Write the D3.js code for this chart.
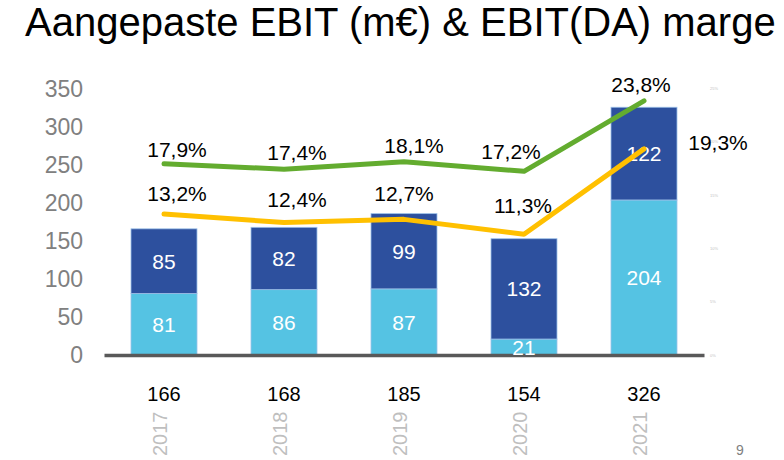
<!DOCTYPE html>
<html>
<head>
<meta charset="utf-8">
<script src="https://cdn.jsdelivr.net/npm/d3@7"></script>
<style>
  body { margin: 0; background: #fff; }
  svg text { font-family: "Liberation Sans", Arial, sans-serif; }
</style>
</head>
<body>
<div id="chart"></div>
<script>
// Data
const years = ["2017", "2018", "2019", "2020", "2021"];
const ebitLow = [81, 86, 87, 21, 204];      // light blue part
const ebitHigh = [85, 82, 99, 132, 122];    // dark blue part
const totals = [166, 168, 185, 154, 326];
const ebitdaMargin = [17.9, 17.4, 18.1, 17.2, 23.8];  // green line
const ebitMargin = [13.2, 12.4, 12.7, 11.3, 19.3];    // yellow line
const leftTicks = [0, 50, 100, 150, 200, 250, 300, 350];
const rightTicks = [0, 5, 10, 15, 20, 25];

// label nudges (layout only), relative to the line point
const greenNudge = [[13, -14], [13, -17], [10, -16], [-13, -20], [-3, -16]];
const yellowNudge = [[13, -21], [13, -23], [0, -26], [-1, -29], [74, -6]];

const W = 784, H = 460;

const svg = d3.select("#chart")
    .append("svg")
    .attr("width", W)
    .attr("height", H);

// Title
svg.append("text")
    .attr("x", 25)
    .attr("y", 36)
    .attr("font-size", 40)
    .attr("fill", "#000")
    .text("Aangepaste EBIT (m€) & EBIT(DA) marge");

// Scales
const x = d3.scaleBand()
    .domain(years)
    .range([104, 704])
    .paddingInner(0.45)
    .paddingOuter(0.225);

const y = d3.scaleLinear()
    .domain([0, 350])
    .range([355, 89]);

const yPct = d3.scaleLinear()
    .domain([0, 25])
    .range([355, 88]);

const cx = d => x(d) + x.bandwidth() / 2;

// Left axis labels
const leftAxis = svg.append("g")
    .attr("transform", "translate(89,0)")
    .call(d3.axisLeft(y).tickValues(leftTicks).tickSize(0).tickPadding(6));
leftAxis.select(".domain").remove();
leftAxis.selectAll("text")
    .attr("font-size", 23)
    .attr("fill", "#808080")
    .style("font-family", "'Liberation Sans', Arial, sans-serif");

// Right axis (tiny, nearly invisible labels)
const rightAxis = svg.append("g")
    .attr("transform", "translate(708,0)")
    .call(d3.axisRight(yPct).tickValues(rightTicks).tickSize(0).tickPadding(2)
        .tickFormat(d => d + "%"));
rightAxis.select(".domain").remove();
rightAxis.selectAll("text")
    .attr("font-size", 4)
    .attr("fill", "#bfbfbf");

// Stacked bars
const stackData = years.map((yr, i) => ({ year: yr, low: ebitLow[i], high: ebitHigh[i] }));
const series = d3.stack().keys(["low", "high"])(stackData);
const colors = { low: "#55c3e3", high: "#2d509e" };

svg.append("g")
    .selectAll("g")
    .data(series)
    .join("g")
    .attr("fill", s => colors[s.key])
    .selectAll("rect")
    .data(s => s)
    .join("rect")
    .attr("x", d => x(d.data.year))
    .attr("y", d => y(d[1]))
    .attr("width", x.bandwidth())
    .attr("height", d => y(d[0]) - y(d[1]))
    .attr("stroke", "#9cc0e8")
    .attr("stroke-width", 0.8);

// Baseline
const base = svg.append("g")
    .attr("transform", `translate(0,${y(0)})`)
    .call(d3.axisBottom(x).tickSize(0).tickFormat(""));
base.select(".domain")
    .attr("stroke", "#595959")
    .attr("stroke-width", 3.5);

// Bar segment labels
series.forEach(s => {
    svg.append("g")
        .selectAll("text")
        .data(s)
        .join("text")
        .attr("x", d => cx(d.data.year))
        .attr("y", d => (y(d[0]) + y(d[1])) / 2)
        .attr("dy", "0.36em")
        .attr("text-anchor", "middle")
        .attr("font-size", 21)
        .attr("fill", "#fff")
        .text(d => d[1] - d[0]);
});

// Lines
const line = d3.line()
    .x((d, i) => cx(years[i]))
    .y(d => yPct(d));

svg.append("path")
    .datum(ebitdaMargin)
    .attr("d", line)
    .attr("fill", "none")
    .attr("stroke", "#63ac2f")
    .attr("stroke-width", 5)
    .attr("stroke-linecap", "round")
    .attr("stroke-linejoin", "round");

svg.append("path")
    .datum(ebitMargin)
    .attr("d", line)
    .attr("fill", "none")
    .attr("stroke", "#ffc000")
    .attr("stroke-width", 5)
    .attr("stroke-linecap", "round")
    .attr("stroke-linejoin", "round");

const fmtPct = v => v.toFixed(1).replace(".", ",") + "%";

function marginLabels(values, nudge) {
    svg.append("g")
        .selectAll("text")
        .data(values)
        .join("text")
        .attr("x", (d, i) => cx(years[i]) + nudge[i][0])
        .attr("y", (d, i) => yPct(d) + nudge[i][1])
        .attr("dy", "0.36em")
        .attr("text-anchor", "middle")
        .attr("font-size", 21)
        .attr("fill", "#000")
        .text(fmtPct);
}
marginLabels(ebitdaMargin, greenNudge);
marginLabels(ebitMargin, yellowNudge);

// Totals under the bars
svg.append("g")
    .selectAll("text")
    .data(totals)
    .join("text")
    .attr("x", (d, i) => cx(years[i]))
    .attr("y", 394)
    .attr("dy", "0.36em")
    .attr("text-anchor", "middle")
    .attr("font-size", 20)
    .attr("fill", "#000")
    .text(d => d);

// Rotated year labels
svg.append("g")
    .selectAll("text")
    .data(years)
    .join("text")
    .attr("transform", d => `translate(${cx(d) + 3},456) rotate(-90)`)
    .attr("font-size", 20)
    .attr("fill", "#bfbfbf")
    .text(d => d);

// Page number
svg.append("text")
    .attr("x", 736)
    .attr("y", 455)
    .attr("font-size", 14)
    .attr("fill", "#808080")
    .text("9");
</script>
</body>
</html>
